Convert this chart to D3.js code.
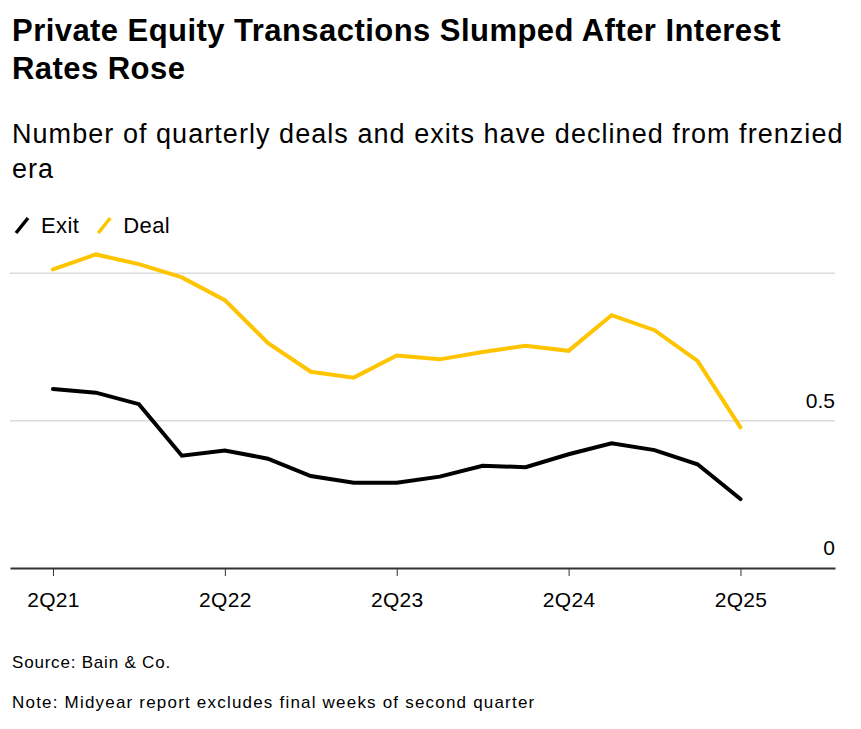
<!DOCTYPE html>
<html>
<head>
<meta charset="utf-8">
<script src="https://cdn.jsdelivr.net/npm/d3@7"></script>
<style>
  body { margin: 0; background: #fff; font-family: "Liberation Sans", Arial, sans-serif; }
  svg text { font-family: "Liberation Sans", Arial, sans-serif; fill: #000; }
</style>
</head>
<body>
<script>
// quarters, 2Q21 .. 2Q25
const quarters = ["2Q21", "3Q21", "4Q21", "1Q22", "2Q22", "3Q22", "4Q22", "1Q23", "2Q23",
    "3Q23", "4Q23", "1Q24", "2Q24", "3Q24", "4Q24", "1Q25", "2Q25"];

const deal = [1.013, 1.064, 1.031, 0.986, 0.909, 0.764, 0.666, 0.646, 0.721,
    0.708, 0.733, 0.754, 0.737, 0.858, 0.807, 0.703, 0.477];
const exit = [0.607, 0.595, 0.556, 0.381, 0.399, 0.371, 0.312, 0.289, 0.289,
    0.310, 0.347, 0.342, 0.386, 0.423, 0.400, 0.352, 0.234];

const xTicks = ["2Q21", "2Q22", "2Q23", "2Q24", "2Q25"];
const yTicks = [0, 0.5, 1];
const yTickLabels = ["0", "0.5", ""];

const series = [
    { name: "Exit", values: exit, color: "#000000" },
    { name: "Deal", values: deal, color: "#ffc400" }
];

const W = 861, H = 729;
const left = 10, right = 835;

const svg = d3.select("body").append("svg")
    .attr("width", W)
    .attr("height", H);

// titles
svg.append("text").attr("x", 12).attr("y", 41)
    .style("font-size", "31px").style("font-weight", "bold").style("letter-spacing", "0.45px")
    .text("Private Equity Transactions Slumped After Interest");
svg.append("text").attr("x", 12).attr("y", 79)
    .style("font-size", "31px").style("font-weight", "bold").style("letter-spacing", "0.45px")
    .text("Rates Rose");

svg.append("text").attr("x", 12).attr("y", 143)
    .style("font-size", "27px").style("letter-spacing", "1.05px")
    .text("Number of quarterly deals and exits have declined from frenzied");
svg.append("text").attr("x", 12).attr("y", 178)
    .style("font-size", "27px").style("letter-spacing", "1.05px")
    .text("era");

// legend
let lx = 14;
series.forEach(s => {
    const g = svg.append("g").attr("transform", "translate(" + lx + ",225)");
    g.append("line")
        .attr("x1", 2).attr("y1", 8).attr("x2", 14).attr("y2", -7)
        .attr("stroke", s.color).attr("stroke-width", 3.5);
    const t = g.append("text").attr("x", 27).attr("y", 8)
        .style("font-size", "22px").style("letter-spacing", "0.4px").text(s.name);
    lx += 27 + t.node().getComputedTextLength() + 17;
});

// scales
const x = d3.scaleLinear()
    .domain([-1, 18.2])
    .range([left, right]);

const y = d3.scaleLinear()
    .domain([0, 1])
    .range([568, 273.3]);

// grid
svg.append("g")
    .selectAll("line")
    .data(yTicks.filter(d => d > 0))
    .enter()
    .append("line")
    .attr("x1", left).attr("x2", right)
    .attr("y1", d => y(d)).attr("y2", d => y(d))
    .attr("stroke", "#dcdcdc").attr("stroke-width", 1.5);

svg.append("g")
    .selectAll("text")
    .data(yTicks)
    .enter()
    .append("text")
    .attr("x", right)
    .attr("y", d => y(d) - 13)
    .attr("text-anchor", "end")
    .style("font-size", "21px")
    .text((d, i) => yTickLabels[i]);

// x axis
const xAxis = svg.append("g")
    .attr("transform", "translate(0," + y(0) + ")")
    .call(d3.axisBottom(x)
        .tickValues(xTicks.map(q => quarters.indexOf(q)))
        .tickFormat(i => quarters[i])
        .tickSize(8)
        .tickSizeOuter(0)
        .tickPadding(16));

xAxis.select(".domain").attr("stroke", "#333").attr("stroke-width", 2);
xAxis.selectAll(".tick line").attr("stroke", "#333").attr("stroke-width", 1);
xAxis.selectAll(".tick text")
    .style("font-size", "21px")
    .style("letter-spacing", "0.3px")
    .style("font-family", "Liberation Sans, Arial, sans-serif")
    .attr("fill", "#000");

// lines
const line = d3.line()
    .x((d, i) => x(i))
    .y(d => y(d));

svg.append("g")
    .selectAll("path")
    .data(series.slice().reverse())
    .enter()
    .append("path")
    .attr("d", d => line(d.values))
    .attr("fill", "none")
    .attr("stroke", d => d.color)
    .attr("stroke-width", 4)
    .attr("stroke-linejoin", "miter")
    .attr("stroke-linecap", "round");

// footer
svg.append("text").attr("x", 12).attr("y", 668)
    .style("font-size", "17px").style("letter-spacing", "0.8px").text("Source: Bain & Co.");
svg.append("text").attr("x", 12).attr("y", 708)
    .style("font-size", "17px").style("letter-spacing", "1.2px").text("Note: Midyear report excludes final weeks of second quarter");
</script>
</body>
</html>
